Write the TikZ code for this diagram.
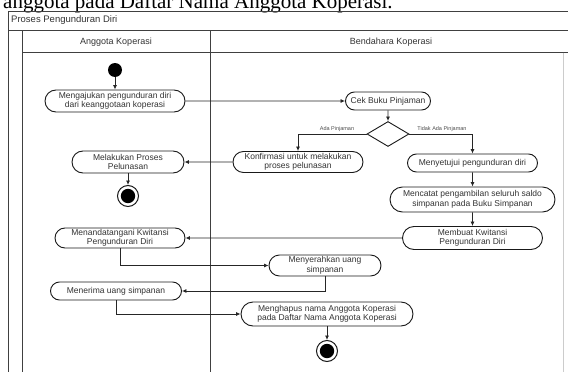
\documentclass[tikz,border=0pt]{standalone}
\usepackage{fontspec}
\setmainfont{Liberation Serif}
\newfontfamily\diagfont{Liberation Sans}
\usetikzlibrary{shapes.misc,shapes.geometric,arrows.meta}
\begin{document}
\begin{tikzpicture}[x=1pt,y=-1pt,
  act/.style={rounded rectangle, draw=black!90, line width=0.9pt, fill=white,
    inner sep=0pt, align=center, text=black!80,
    font=\diagfont\fontsize{8.5}{9.5}\selectfont},
  flow/.style={draw=black!85, line width=0.8pt, -{Latex[length=4.5pt,width=4pt]}},
  lane/.style={draw=black!75, line width=1pt},
  hdr/.style={font=\diagfont\fontsize{9}{10}\selectfont, text=black!80, inner sep=0pt},
  guard/.style={font=\diagfont\fontsize{5.5}{6}\selectfont, text=black!70, inner sep=0pt},
  decide/.style={diamond, draw=black!90, line width=0.9pt, fill=white, inner sep=0pt,
    minimum width=42pt, minimum height=25pt},
  initnode/.style={circle, fill=black, inner sep=0pt, minimum size=14pt},
  finalnode/.style={circle, draw=black!90, line width=1pt, fill=white, inner sep=0pt,
    minimum size=21pt, path picture={\fill[black] (path picture bounding box.center) circle (7.2pt);}}
]
\useasboundingbox (0,0) rectangle (568,372);
\clip (0,0) rectangle (568,372);

% running text above the figure
\node[anchor=base west, inner sep=0pt, font=\fontsize{21}{21}\selectfont] (caption) at (3,9)
  {anggota pada Daftar Nama Anggota Koperasi.};

% activity frame and swimlanes
\draw[lane] (8,380) -- (8,11) -- (580,11);
\draw[lane] (8,30.5) -- (580,30.5);
\draw[lane] (22,30.5) -- (22,380);
\draw[lane] (22,52.5) -- (580,52.5);
\draw[lane] (210,30.5) -- (210,380);
\draw[black!20, line width=0.8pt] (563,52.5) -- (563,380);

\node[hdr, anchor=west, font=\diagfont\fontsize{9.5}{10}\selectfont] (title) at (11,20.5) {Proses Pengunduran Diri};
\node[hdr] (laneA) at (116,42) {Anggota Koperasi};
\node[hdr] (laneB) at (391,42) {Bendahara Koperasi};

% actions
\node[initnode] (start) at (115,70) {};
\node[act, minimum width=140pt, minimum height=22pt] (n1) at (115,101)
  {Mengajukan pengunduran diri\\dari keanggotaan koperasi};
\node[act, minimum width=85pt, minimum height=18pt] (n2) at (388,101) {Cek Buku Pinjaman};
\node[decide] (dec) at (388,134) {};
\node[guard, anchor=south] (g1) at (337,132) {Ada Pinjaman};
\node[guard, anchor=south] (g2) at (442,132) {Tidak Ada Pinjaman};
\node[act, minimum width=130pt, minimum height=21pt] (n3) at (298,162)
  {Konfirmasi untuk melakukan\\proses pelunasan};
\node[act, minimum width=130pt, minimum height=18pt] (n4) at (472.5,163) {Menyetujui pengunduran diri};
\node[act, minimum width=112pt, minimum height=22pt] (n5) at (128,162)
  {Melakukan Proses\\Pelunasan};
\node[finalnode] (end1) at (128,196) {};
\node[act, minimum width=165pt, minimum height=25pt] (n6) at (472.5,199.5)
  {Mencatat pengambilan seluruh saldo\\simpanan pada Buku Simpanan};
\node[act, minimum width=140pt, minimum height=23pt] (n7) at (472.5,238)
  {Membuat Kwitansi\\Pengunduran Diri};
\node[act, minimum width=130pt, minimum height=20pt] (n8) at (120,238)
  {Menandatangani Kwitansi\\Pengunduran Diri};
\node[act, minimum width=112pt, minimum height=21pt] (n9) at (325,265.5)
  {Menyerahkan uang\\simpanan};
\node[act, minimum width=131pt, minimum height=18pt] (n10) at (116,291) {Menerima uang simpanan};
\node[act, minimum width=172pt, minimum height=24pt] (n11) at (327,314)
  {Menghapus nama Anggota Koperasi\\pada Daftar Nama Anggota Koperasi};
\node[finalnode] (end2) at (327,351) {};

% control flow
\draw[flow] (start) -- (n1);
\draw[flow] (n1) -- (n2);
\draw[flow] (n2) -- (dec);
\draw[flow] (dec.west) -| (n3.north);
\draw[flow] (dec.east) -| (n4.north);
\draw[flow] (n3) -- (n5);
\draw[flow] (n5) -- (end1);
\draw[flow] (n4) -- (n6);
\draw[flow] (n6) -- (n7);
\draw[flow] (n7) -- (n8);
\draw[flow] (n8.south) |- (n9.west);
\draw[flow] (n9.south) |- (n10.east);
\draw[flow] (n10.south) |- (n11.west);
\draw[flow] (n11) -- (end2);
\end{tikzpicture}
\end{document}
